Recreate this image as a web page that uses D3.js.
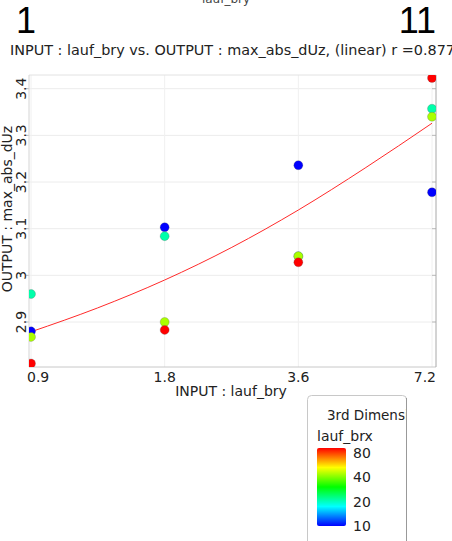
<!DOCTYPE html>
<html>
  <head>
    <meta charset="utf-8">
    <title>lauf_bry vs max_abs_dUz</title>
    <script src="https://d3js.org/d3.v7.min.js"></script>
    <style>
      body { margin: 0; background: #fff; }
      svg { display: block; font-family: "DejaVu Sans", Verdana, sans-serif; }
    </style>
  </head>
  <body>
    <svg id="chart" width="452" height="541"></svg>
    <script>
      // data
      var inputValues = [0.9, 1.8, 3.6, 7.2];
      var thirdDimValues = [10, 20, 40, 80];
      var outputBy10 = [2.880, 3.103, 3.236, 3.178];
      var outputBy20 = [2.960, 3.084, 3.041, 3.357];
      var outputBy40 = [2.868, 2.900, 3.041, 3.340];
      var outputBy80 = [2.811, 2.883, 3.028, 3.423];
      var fitInput = [0.9, 1.27, 1.8, 2.55, 3.6, 5.09, 7.2];
      var fitOutput = [2.879, 2.930, 2.990, 3.060, 3.140, 3.230, 3.326];
      var yTicks = [2.9, 3.0, 3.1, 3.2, 3.3, 3.4];
      var legendTicks = [10, 20, 40, 80];

      var series = [outputBy10, outputBy20, outputBy40, outputBy80];
      var points = [];
      series.forEach(function(values, i) {
        values.forEach(function(v, j) {
          points.push({ input: inputValues[j], output: v, dim: thirdDimValues[i] });
        });
      });

      // frame
      var frame = { left: 29, right: 436, top: 75, bottom: 367 };
      var svg = d3.select("#chart");

      var x = d3.scaleLog()
        .domain([0.9, 7.2])
        .range([31, 432]);
      var y = d3.scaleLinear()
        .domain([2.9, 3.4])
        .range([322, 88.7]);

      var jet = d3.scaleLinear()
        .domain([0, 0.25, 0.5, 0.75, 1])
        .range(["#0000ff", "#00ffff", "#00ff00", "#ffff00", "#ff0000"]);
      var colorT = d3.scaleLog().domain([10, 80]).range([0, 1]);
      function color(v) { return jet(colorT(v)); }

      // headings
      svg.append("text")
        .attr("x", 226).attr("y", 3)
        .attr("text-anchor", "middle")
        .style("font-size", "12px")
        .style("fill", "#444")
        .text("lauf_bry");
      svg.append("text")
        .attr("x", 16).attr("y", 33)
        .style("font-family", "'Liberation Sans', Arial, sans-serif")
        .style("font-size", "36px")
        .text("1");
      svg.append("text")
        .attr("x", 436).attr("y", 33)
        .attr("text-anchor", "end")
        .style("font-family", "'Liberation Sans', Arial, sans-serif")
        .style("font-size", "36px")
        .text("11");
      svg.append("text")
        .attr("x", 10).attr("y", 55)
        .style("font-size", "14.4px")
        .style("fill", "#222")
        .text("INPUT : lauf_bry vs. OUTPUT : max_abs_dUz, (linear) r =0.877");

      // grid
      svg.append("g")
        .selectAll("line")
        .data(yTicks)
        .enter().append("line")
          .attr("x1", frame.left).attr("x2", frame.right)
          .attr("y1", function(d) { return y(d); })
          .attr("y2", function(d) { return y(d); })
          .style("stroke", "#ececec");
      svg.append("g")
        .selectAll("line")
        .data(inputValues)
        .enter().append("line")
          .attr("x1", function(d) { return x(d); })
          .attr("x2", function(d) { return x(d); })
          .attr("y1", frame.top).attr("y2", frame.bottom)
          .style("stroke", "#f0f0f0");

      // ticks
      svg.append("g")
        .selectAll("line")
        .data(yTicks)
        .enter().append("line")
          .attr("x1", frame.left - 3).attr("x2", frame.left)
          .attr("y1", function(d) { return y(d); })
          .attr("y2", function(d) { return y(d); })
          .style("stroke", "#bbb");
      svg.append("g")
        .selectAll("line")
        .data(yTicks)
        .enter().append("line")
          .attr("x1", frame.right - 4).attr("x2", frame.right)
          .attr("y1", function(d) { return y(d); })
          .attr("y2", function(d) { return y(d); })
          .style("stroke", "#bbb");

      // border
      svg.append("line")
        .attr("x1", frame.left).attr("x2", frame.right)
        .attr("y1", frame.top).attr("y2", frame.top)
        .style("stroke", "#e2e2e2");
      svg.append("line")
        .attr("x1", frame.left).attr("x2", frame.left)
        .attr("y1", frame.top).attr("y2", frame.bottom)
        .style("stroke", "#d4d4d4");
      svg.append("line")
        .attr("x1", frame.left).attr("x2", frame.right)
        .attr("y1", frame.bottom).attr("y2", frame.bottom)
        .style("stroke", "#c8c8c8");
      svg.append("line")
        .attr("x1", frame.right).attr("x2", frame.right)
        .attr("y1", frame.top).attr("y2", frame.bottom)
        .style("stroke", "#a8a8a8");

      // clip
      svg.append("clipPath")
        .attr("id", "plotClip")
        .append("rect")
          .attr("x", frame.left).attr("y", frame.top)
          .attr("width", frame.right - frame.left)
          .attr("height", frame.bottom - frame.top);
      var plot = svg.append("g").attr("clip-path", "url(#plotClip)");

      // fit line
      var fitLine = d3.line()
        .x(function(d, i) { return x(fitInput[i]); })
        .y(function(d) { return y(d); })
        .curve(d3.curveMonotoneX);
      plot.append("path")
        .attr("d", fitLine(fitOutput))
        .style("fill", "none")
        .style("stroke", "#ff2a2a")
        .style("stroke-width", 1);

      // points
      plot.selectAll(".pt")
        .data(points)
        .enter().append("circle")
          .classed("pt", true)
          .attr("cx", function(d) { return x(d.input); })
          .attr("cy", function(d) { return y(d.output); })
          .attr("r", 4.5)
          .style("fill", function(d) { return color(d.dim); })
          .style("stroke", "rgba(90,90,90,0.45)")
          .style("stroke-width", 0.6);

      // axis labels
      svg.append("g")
        .selectAll("text")
        .data(yTicks)
        .enter().append("text")
          .attr("transform", function(d) { return "translate(26," + y(d) + ") rotate(-90)"; })
          .attr("text-anchor", "middle")
          .style("font-size", "14px")
          .style("fill", "#222")
          .text(function(d) { return d3.format("")(d); });
      svg.append("g")
        .selectAll("text")
        .data(inputValues)
        .enter().append("text")
          .attr("x", function(d, i) {
            if (i == 0) return frame.left - 2;
            if (i == inputValues.length - 1) return frame.right;
            return x(d);
          })
          .attr("y", 382)
          .attr("text-anchor", function(d, i) {
            return i == 0 ? "start" : i == inputValues.length - 1 ? "end" : "middle";
          })
          .style("font-size", "14px")
          .style("fill", "#222")
          .text(function(d) { return d; });
      svg.append("text")
        .attr("x", 231).attr("y", 396)
        .attr("text-anchor", "middle")
        .style("font-size", "14px")
        .style("fill", "#222")
        .text("INPUT : lauf_bry");
      svg.append("text")
        .attr("transform", "translate(12,209) rotate(-90)")
        .attr("text-anchor", "middle")
        .style("font-size", "14px")
        .style("fill", "#222")
        .text("OUTPUT : max_abs_dUz");

      // legend
      var legend = svg.append("g");
      legend.append("clipPath")
        .attr("id", "legendClip")
        .append("rect")
          .attr("x", 307).attr("y", 395)
          .attr("width", 99).attr("height", 160);
      legend.append("rect")
        .attr("x", 307.5).attr("y", 395.5)
        .attr("width", 99).attr("height", 160)
        .attr("rx", 4)
        .style("fill", "#fff")
        .style("stroke", "#c8c8c8");
      legend.append("line")
        .attr("x1", 406.5).attr("x2", 406.5)
        .attr("y1", 398).attr("y2", 541)
        .style("stroke", "#999");
      legend.append("text")
        .attr("clip-path", "url(#legendClip)")
        .attr("x", 327).attr("y", 420)
        .style("font-size", "13.5px")
        .style("fill", "#222")
        .text("3rd Dimension");
      legend.append("text")
        .attr("x", 317).attr("y", 441)
        .style("font-size", "14px")
        .style("fill", "#222")
        .text("lauf_brx");

      var gradient = svg.append("defs").append("linearGradient")
        .attr("id", "jetGradient")
        .attr("x1", "0").attr("y1", "1").attr("x2", "0").attr("y2", "0");
      gradient.selectAll("stop")
        .data(jet.domain())
        .enter().append("stop")
          .attr("offset", function(d) { return d; })
          .attr("stop-color", function(d) { return jet(d); });
      legend.append("rect")
        .attr("x", 317).attr("y", 448)
        .attr("width", 29).attr("height", 78)
        .attr("rx", 2)
        .style("fill", "url(#jetGradient)");

      var legendScale = d3.scaleLog()
        .domain([10, 80])
        .range([526, 453]);
      legend.selectAll(".ltick")
        .data(legendTicks)
        .enter().append("text")
          .classed("ltick", true)
          .attr("x", 353)
          .attr("y", function(d) { return legendScale(d) + 5; })
          .style("font-size", "14px")
          .style("fill", "#222")
          .text(function(d) { return d; });
    </script>
  </body>
</html>
